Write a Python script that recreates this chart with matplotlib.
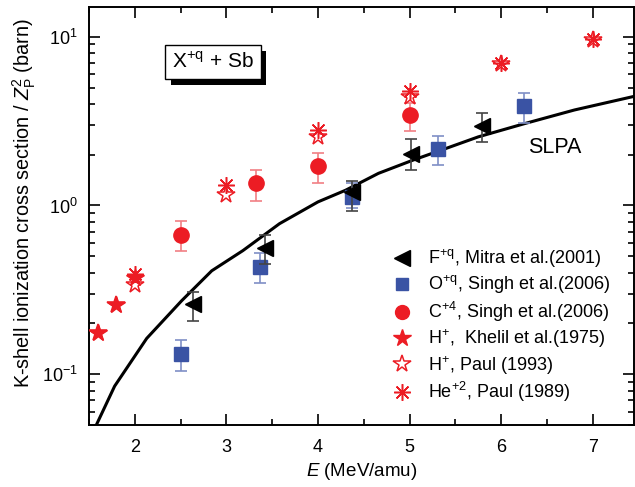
import matplotlib
matplotlib.use("Agg")
import matplotlib.pyplot as plt
from matplotlib.lines import Line2D
from matplotlib.ticker import LogLocator, NullFormatter, MultipleLocator
import matplotlib.patheffects as pe
import numpy as np

plt.rcParams['font.family'] = ['Liberation Sans', 'DejaVu Sans']
plt.rcParams['mathtext.fontset'] = 'custom'
plt.rcParams['mathtext.rm'] = 'Liberation Sans'
plt.rcParams['mathtext.it'] = 'Liberation Sans:italic'
plt.rcParams['mathtext.bf'] = 'Liberation Sans:bold'

RED = '#ec1c24'
BLUE = '#3a53a4'

# F+q, Mitra et al. (2001)
F_E = [2.63, 3.42, 4.37, 5.01, 5.79]
F_v = [0.260, 0.56, 1.20, 2.03, 2.95]
F_lo = [0.207, 0.45, 0.925, 1.63, 2.38]
F_hi = [0.309, 0.67, 1.40, 2.46, 3.54]

# O+q, Singh et al. (2006)
O_E = [2.50, 3.37, 4.37, 5.31, 6.25]
O_v = [0.131, 0.433, 1.13, 2.17, 3.88]
O_lo = [0.105, 0.347, 0.96, 1.73, 3.09]
O_hi = [0.159, 0.52, 1.35, 2.59, 4.66]

# C+4, Singh et al. (2006)
C_E = [2.50, 3.32, 4.00, 5.00]
C_v = [0.671, 1.36, 1.71, 3.43]
C_lo = [0.54, 1.07, 1.36, 2.77]
C_hi = [0.81, 1.62, 2.05, 4.03]

# H+, Khelil et al. (1975)
HK_E = [1.60, 1.80, 2.00]
HK_v = [0.176, 0.257, 0.374]

# H+, Paul (1993)
HP_E = [1.60, 1.80, 2.00, 3.00, 4.00, 5.00, 6.00, 7.00]
HP_v = [0.176, 0.257, 0.339, 1.15, 2.55, 4.38, 6.9, 9.5]

# He+2, Paul (1989)
He_E = [2.00, 3.00, 4.00, 5.00, 6.00, 7.00]
He_v = [0.395, 1.33, 2.79, 4.79, 7.03, 9.69]

# SLPA theory
S_E = [1.58, 1.78, 2.13, 2.51, 2.84, 3.18, 3.58, 4.00, 4.30, 4.66, 5.03,
       5.39, 5.75, 6.26, 6.80, 7.45]
S_v = [0.05, 0.085, 0.163, 0.272, 0.41, 0.54, 0.78, 1.05, 1.23, 1.55, 1.85,
       2.17, 2.55, 3.06, 3.68, 4.43]

labels = [r'F$^{\mathrm{+q}}$, Mitra et al.(2001)',
          r'O$^{\mathrm{+q}}$, Singh et al.(2006)',
          r'C$^{\mathrm{+4}}$, Singh et al.(2006)',
          r'H$^{\mathrm{+}}$,  Khelil et al.(1975)',
          r'H$^{\mathrm{+}}$, Paul (1993)',
          r'He$^{\mathrm{+2}}$, Paul (1989)']

fig = plt.figure(figsize=(6.35, 4.87), dpi=100)
ax = fig.add_axes([89/635, 1-425/487, 545/635, 418/487])

ax.plot(S_E, S_v, color='black', lw=2.2, zorder=2)


def yerr(v, lo, hi):
    v = np.array(v); return [v - np.array(lo), np.array(hi) - v]

ax.errorbar(O_E, O_v, yerr=yerr(O_v, O_lo, O_hi), fmt='s', ms=10, color=BLUE,
            ecolor='#7f8fc6', elinewidth=1.2, capsize=4, capthick=1.2, zorder=3)
ax.errorbar(C_E, C_v, yerr=yerr(C_v, C_lo, C_hi), fmt='o', ms=11, color=RED,
            ecolor='#f17f84', elinewidth=1.2, capsize=4, capthick=1.2, zorder=3)
ax.errorbar(F_E, F_v, yerr=yerr(F_v, F_lo, F_hi), fmt='<', ms=11, color='black',
            ecolor='#444444', elinewidth=1.2, capsize=4, capthick=1.2, zorder=4)
ax.plot(HK_E, HK_v, '*', ms=13, color=RED, mec=RED, zorder=3)
ax.plot(HP_E, HP_v, '*', ms=13, mfc='none', mec=RED, mew=1.1, zorder=3)
ax.plot(He_E, He_v, marker=(8, 2, 0), ls='none', ms=12, color=RED, mew=1.1, zorder=3)

ax.set_yscale('log')
ax.set_xlim(1.5, 7.45)
ax.set_ylim(0.05, 15)

ax.xaxis.set_major_locator(MultipleLocator(1))
ax.xaxis.set_minor_locator(MultipleLocator(0.5))
ax.yaxis.set_major_locator(LogLocator(base=10, numticks=10))
ax.yaxis.set_minor_locator(LogLocator(base=10, subs=np.arange(2, 10), numticks=20))
ax.yaxis.set_minor_formatter(NullFormatter())

ax.tick_params(which='both', direction='in', top=True, right=True, width=1.2)
ax.tick_params(which='major', length=8, labelsize=13, pad=8)
ax.tick_params(axis='x', which='major', pad=10)
ax.tick_params(which='minor', length=4)
for sp in ax.spines.values():
    sp.set_linewidth(1.4)

ax.set_xlabel(r'$\mathit{E}$ (MeV/amu)', fontsize=13.5, labelpad=4)
ax.set_ylabel(r'K-shell ionization cross section / $\mathit{Z}_{\mathrm{P}}^{2}$ (barn)',
              fontsize=14.3)
ax.yaxis.set_label_coords(-0.093, 0.53)

ax.text(0.855, 0.665, 'SLPA', transform=ax.transAxes, fontsize=15.5,
        ha='center', va='center')

# boxed label with shadow
t = ax.text(0.2275, 0.868, r'X$^{\mathrm{+q}}$ + Sb', transform=ax.transAxes,
            fontsize=15, ha='center', va='center',
            bbox=dict(boxstyle='square,pad=0.33', fc='white', ec='black', lw=1.0),
            zorder=6)
t.get_bbox_patch().set_path_effects([
    pe.SimplePatchShadow(offset=(4, -4), shadow_rgbFace='black', alpha=1.0),
    pe.Normal()])

handles = [
    Line2D([], [], marker='<', ls='none', ms=11, color='black'),
    Line2D([], [], marker='s', ls='none', ms=9, color=BLUE),
    Line2D([], [], marker='o', ls='none', ms=10, color=RED),
    Line2D([], [], marker='*', ls='none', ms=13, color=RED),
    Line2D([], [], marker='*', ls='none', ms=13, mfc='none', mec=RED, mew=1.1),
    Line2D([], [], marker=(8, 2, 0), ls='none', ms=12, color=RED, mew=1.1),
]
ax.legend(handles, labels, loc='upper left', bbox_to_anchor=(0.555, 0.425),
          frameon=False, fontsize=13, handlelength=1.2, handletextpad=0.8,
          labelspacing=0.2, borderaxespad=0, borderpad=0)

fig.savefig('out.png', dpi=100)
